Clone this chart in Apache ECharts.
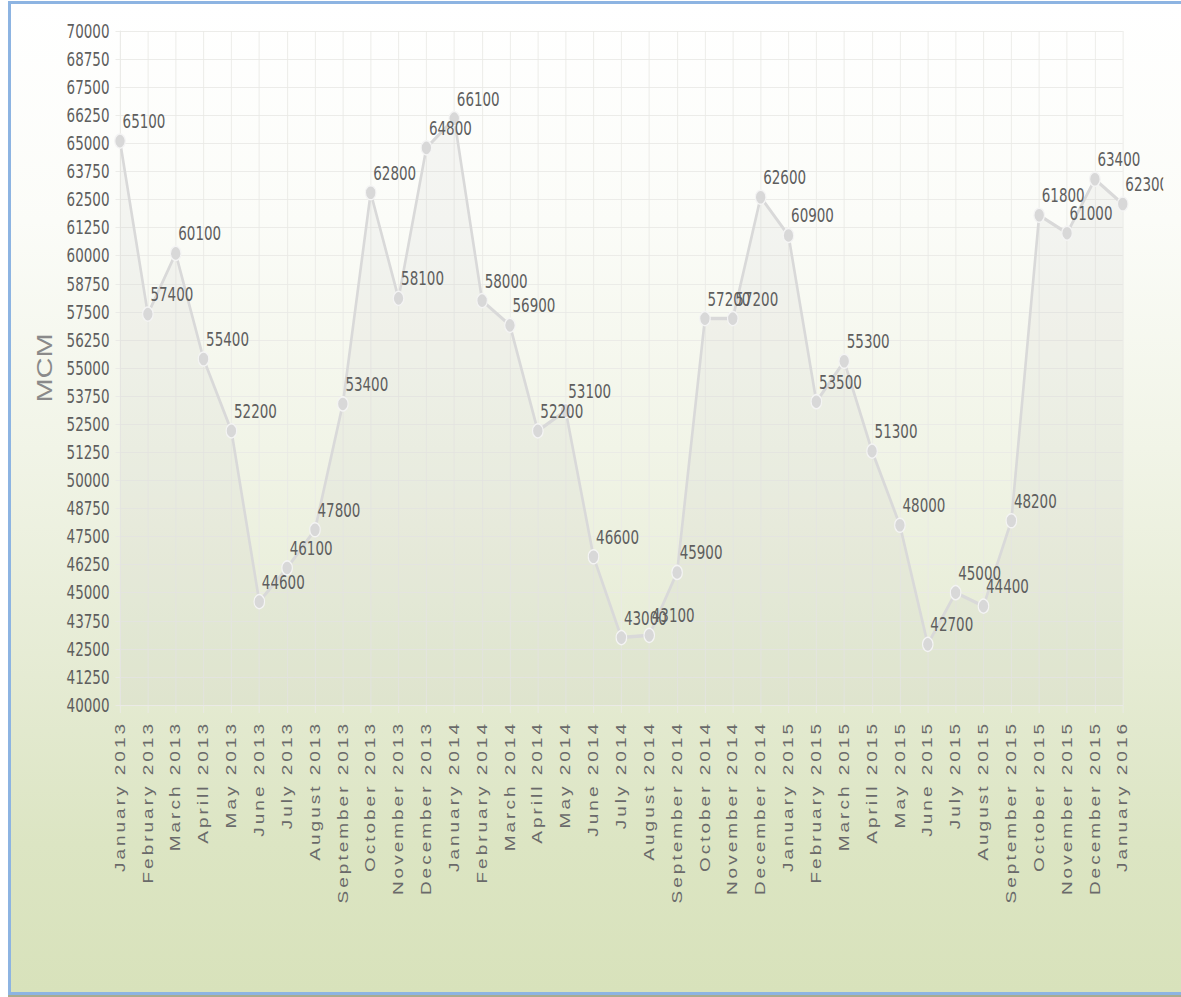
<!DOCTYPE html>
<html>
<head>
<meta charset="utf-8">
<script src="https://cdn.jsdelivr.net/npm/echarts@6/dist/echarts.min.js"></script>
<style>
  html, body { margin: 0; padding: 0; width: 1181px; height: 997px; overflow: hidden; background: #ffffff; }
  #frame {
    position: absolute; left: 8px; top: 1px; width: 1200px; height: 988px;
    border: 3px solid #8db4e2; border-right: none;
    box-shadow: 0 2px 0 #a9ab8f;
    background: linear-gradient(to bottom, #ffffff 0%, #fbfcf8 22%, #f1f4e7 45%, #e5ebd3 68%, #dce5c3 85%, #d8e2bb 100%);
  }
  /* the chart is laid out wide and then compressed horizontally */
  #chart {
    position: absolute; left: 0; top: 0; width: 1551px; height: 997px;
    transform: scaleX(0.75); transform-origin: 0 0;
  }
  #chart text[style*="Arial"] { letter-spacing: 3px; }
</style>
</head>
<body>
<div id="frame"></div>
<div id="chart"></div>
<script>
// Monthly volume, January 2013 – January 2016 (MCM)
const months = [
  'January 2013', 'February 2013', 'March 2013', 'Aprill 2013', 'May 2013', 'June 2013',
  'July 2013', 'August 2013', 'September 2013', 'October 2013', 'November 2013', 'December 2013',
  'January 2014', 'February 2014', 'March 2014', 'Aprill 2014', 'May 2014', 'June 2014',
  'July 2014', 'August 2014', 'September 2014', 'October 2014', 'November 2014', 'December 2014',
  'January 2015', 'February 2015', 'March 2015', 'Aprill 2015', 'May 2015', 'June 2015',
  'July 2015', 'August 2015', 'September 2015', 'October 2015', 'November 2015', 'December 2015',
  'January 2016'
];
const volumes = [
  65100, 57400, 60100, 55400, 52200, 44600,
  46100, 47800, 53400, 62800, 58100, 64800,
  66100, 58000, 56900, 52200, 53100, 46600,
  43000, 43100, 45900, 57200, 57200, 62600,
  60900, 53500, 55300, 51300, 48000, 42700,
  45000, 44400, 48200, 61800, 61000, 63400,
  62300
];
const yMin = 40000;
const yMax = 70000;
const yStep = 1250;
const yAxisTitle = 'MCM';

const narrow = "'Liberation Sans Narrow', 'DejaVu Sans Condensed', sans-serif";
const gridColor = '#e9e9e6';

const chart = echarts.init(document.getElementById('chart'), null, { renderer: 'svg' });
chart.setOption({
  backgroundColor: 'transparent',
  animation: false,
  grid: { left: 160, right: 54, top: 31, bottom: 292 },
  xAxis: {
    type: 'category',
    data: months,
    boundaryGap: false,
    axisLine: { show: true, lineStyle: { color: gridColor, width: 1 } },
    axisTick: { show: true, alignWithLabel: true, length: 8, lineStyle: { color: gridColor } },
    splitLine: { show: true, lineStyle: { color: gridColor, width: 1 } },
    axisLabel: {
      interval: 0,
      rotate: 90,
      margin: 16,
      color: '#6a6a6a',
      fontSize: 19,
      fontFamily: 'Liberation Sans, Arial'
    }
  },
  yAxis: {
    type: 'value',
    min: yMin,
    max: yMax,
    interval: yStep,
    name: yAxisTitle,
    nameLocation: 'middle',
    nameGap: 86,
    nameRotate: 90,
    nameTextStyle: { color: '#8a8a8a', fontSize: 29, fontFamily: "'Liberation Sans', sans-serif" },
    axisLine: { show: true, lineStyle: { color: gridColor, width: 1 } },
    axisTick: { show: true, length: 6, lineStyle: { color: gridColor } },
    splitLine: { show: true, lineStyle: { color: gridColor, width: 1 } },
    axisLabel: {
      margin: 14,
      color: '#5e5e5e',
      fontSize: 20,
      fontFamily: narrow,
      formatter: v => String(v)
    }
  },
  series: [{
    type: 'line',
    data: volumes,
    symbol: 'circle',
    symbolSize: 14,
    itemStyle: { color: '#d8d8d8', borderColor: '#f4f4f4', borderWidth: 1.5 },
    lineStyle: { color: '#d9d9d9', width: 3.5 },
    areaStyle: { color: 'rgba(185,185,185,0.16)', origin: 'start' },
    label: {
      show: true,
      position: 'top',
      distance: 4,
      offset: [32, 2],
      color: '#5e5e5e',
      fontSize: 20,
      fontFamily: narrow,
      formatter: '{c}'
    },
    emphasis: { disabled: true }
  }]
});
</script>
</body>
</html>
